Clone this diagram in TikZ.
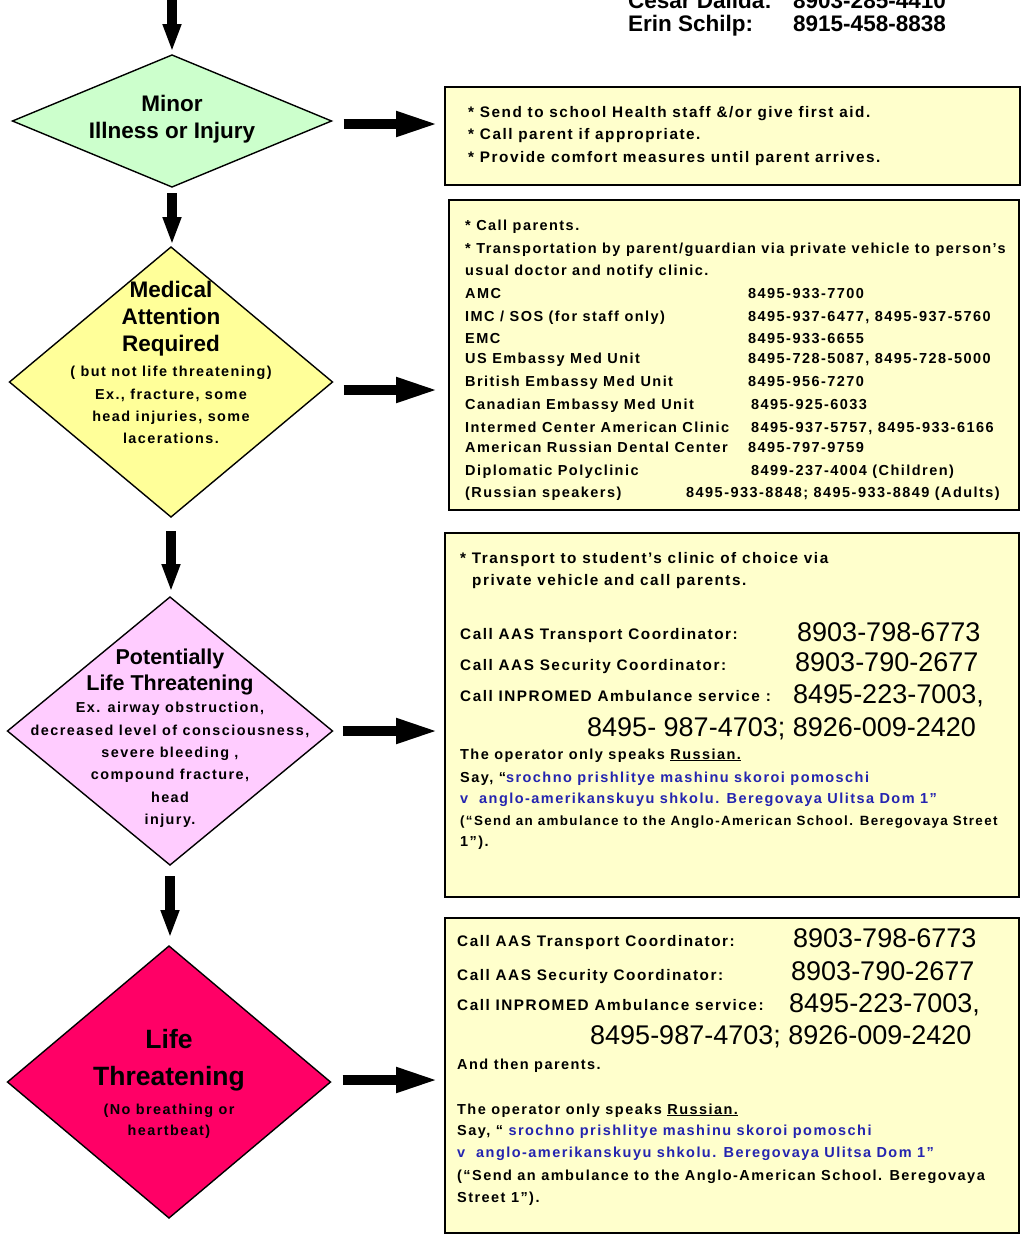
\documentclass[tikz,border=0pt]{standalone}
\usepackage{fontspec}
\setmainfont{Liberation Sans}
\newfontfamily\boxfont[LetterSpace=10]{Liberation Sans}
\usetikzlibrary{shapes, calc, arrows.meta, positioning}
\definecolor{G}{HTML}{CCFFCC}
\definecolor{Y}{HTML}{FFFF99}
\definecolor{P}{HTML}{FFCCFF}
\definecolor{R}{HTML}{FF0066}
\definecolor{C}{HTML}{FFFFCC}
\definecolor{B}{HTML}{2424B0}

\tikzset{
  grade/.style = {diamond, draw = black, line width = 1.4pt, inner sep = 0pt, outer sep = 0pt},
  todo/.style = {draw = black, line width = 2.5pt, fill = C, inner sep = 0pt, outer sep = 0pt, anchor = north west},
  heading/.style = {align = center, inner sep = 0pt, font = \bfseries\fontsize{22.5}{27}\selectfont},
  subnote/.style = {align = center, inner sep = 0pt, font = \boxfont\bfseries\fontsize{14.4}{22.3}\selectfont},
  txtline/.style = {anchor = base west, inner sep = 0pt, font = \boxfont\bfseries\fontsize{14.5}{17}\selectfont},
  bigline/.style = {txtline, font = \boxfont\bfseries\fontsize{15.3}{18}\selectfont},
  tightline/.style = {txtline, font = \boxfont\bfseries\fontsize{13.4}{16}\selectfont},
  phone/.style = {anchor = base west, inner sep = 0pt, font = \fontsize{27}{31}\selectfont},
  contact/.style = {anchor = base west, inner sep = 0pt, font = \bfseries\fontsize{22.5}{26}\selectfont},
  say/.style = {txtline, text = B},
  sidearrow/.style = {line width = 10pt, -{Triangle[length = 43pt, width = 23pt]}},
  downarrow/.style = {line width = 10pt, -{Triangle[length = 28pt, width = 17pt]}}
}

\begin{document}
\begin{tikzpicture}[x = 1pt, y = -1pt]
      \path[use as bounding box, fill = white] (0,0) rectangle (1022,1235);

      \node[contact] (cesar) at (628,8) {Cesar Dalida:};
      \node[contact] (cesarnum) at (793,8) {8903-285-4410};
      \node[contact] (erin) at (628,31) {Erin Schilp:};
      \node[contact] (erinnum) at (793,31) {8915-458-8838};

      \node[grade, fill = G, minimum width = 319pt, minimum height = 132pt] (minor) at (172,121) {};
      \node[grade, fill = Y, minimum width = 323pt, minimum height = 270pt] (medical) at (171,382) {};
      \node[grade, fill = P, minimum width = 325pt, minimum height = 268pt] (potential) at (170,731) {};
      \node[grade, fill = R, minimum width = 323pt, minimum height = 272pt] (life) at (169,1082) {};

      \node[heading] (minortitle) at (172,119) {Minor\\Illness or Injury};

      \node[heading] (medicaltitle) at (171,319) {Medical\\Attention\\Required};
      \node[subnote] (medicalnote) at (171,405) {( but not life threatening)\\Ex., fracture, some\\head injuries, some\\lacerations.};

      \node[heading, font = \bfseries\fontsize{21.5}{26}\selectfont] (potentialtitle) at (170,672) {Potentially\\Life Threatening};
      \node[subnote] (potentialnote) at (170,765) {Ex. airway obstruction,\\decreased level of consciousness,\\severe bleeding ,\\compound fracture,\\head\\injury.};

      \node[heading, font = \bfseries\fontsize{26.5}{37}\selectfont] (lifetitle) at (169,1060) {Life\\Threatening};
      \node[subnote, font = \boxfont\bfseries\fontsize{14.4}{21}\selectfont] (lifenote) at (169,1121) {(No breathing or\\heartbeat)};

      \node[todo, minimum width = 575pt, minimum height = 98pt] (minorbox) at (445,87) {};
      \node[todo, minimum width = 570pt, minimum height = 310pt] (medicalbox) at (449,200) {};
      \node[todo, minimum width = 574pt, minimum height = 364pt] (potentialbox) at (445,533) {};
      \node[todo, minimum width = 574pt, minimum height = 315pt] (lifebox) at (445,918) {};

      \coordinate (start) at (172,-4);
      \draw[downarrow] (start) -- ($(minor.north)+(0,-3)$);
      \draw[downarrow] ($(minor.south)+(0,6)$) -- ($(minor.south |- medical.north)+(0,-2)$);
      \draw[downarrow] ($(medical.south)+(0,14)$) -- ($(medical.south |- potential.north)+(0,-5)$);
      \draw[downarrow] ($(potential.south)+(0,11)$) -- ($(potential.south |- life.north)+(0,-8)$);

      \draw[sidearrow] ($(minor.east)+(12,3)$) -- ($(minor.east -| minorbox.west)+(-6,3)$);
      \draw[sidearrow] ($(medical.east)+(11,8)$) -- ($(medical.east -| medicalbox.west)+(-10,8)$);
      \draw[sidearrow] ($(potential.east)+(10,0)$) -- ($(potential.east -| potentialbox.west)+(-6,0)$);
      \draw[sidearrow] ($(life.east)+(12,-2)$) -- ($(life.east -| lifebox.west)+(-6,-2)$);

      \node[bigline] (mi1) at (468,117) {* Send to school Health staff \&/or give first aid.};
      \node[bigline] (mi2) at (468,139) {* Call parent if appropriate.};
      \node[bigline] (mi3) at (468,162) {* Provide comfort measures until parent arrives.};

      \node[txtline] (me1) at (465,230) {* Call parents.};
      \node[txtline] (me2) at (465,253) {* Transportation by parent/guardian via private vehicle to person’s};
      \node[txtline] (me3) at (465,275) {usual doctor and notify clinic.};
      \node[txtline] (me4) at (465,298) {\makebox[283pt][l]{AMC}8495-933-7700};
      \node[txtline] (me5) at (465,321) {\makebox[283pt][l]{IMC / SOS (for staff only)}8495-937-6477, 8495-937-5760};
      \node[txtline] (me6) at (465,343) {\makebox[283pt][l]{EMC}8495-933-6655};
      \node[txtline] (me7) at (465,363) {\makebox[283pt][l]{US Embassy Med Unit}8495-728-5087, 8495-728-5000};
      \node[txtline] (me8) at (465,386) {\makebox[283pt][l]{British Embassy Med Unit}8495-956-7270};
      \node[txtline] (me9) at (465,409) {\makebox[286pt][l]{Canadian Embassy Med Unit}8495-925-6033};
      \node[txtline] (me10) at (465,432) {\makebox[286pt][l]{Intermed Center American Clinic}8495-937-5757, 8495-933-6166};
      \node[txtline] (me11) at (465,452) {\makebox[283pt][l]{American Russian Dental Center}8495-797-9759};
      \node[txtline] (me12) at (465,475) {\makebox[286pt][l]{Diplomatic Polyclinic}8499-237-4004 (Children)};
      \node[txtline] (me13) at (465,497) {\makebox[221pt][l]{(Russian speakers)}8495-933-8848; 8495-933-8849 (Adults)};

      \node[bigline] (po1) at (460,563) {* Transport to student’s clinic of choice via};
      \node[bigline] (po2) at (472,585) {private vehicle and call parents.};
      \node[bigline] (po3) at (460,639) {Call AAS Transport Coordinator:};
      \node[phone] (po3num) at (797,641) {8903-798-6773};
      \node[bigline] (po4) at (460,670) {Call AAS Security Coordinator:};
      \node[phone] (po4num) at (795,671) {8903-790-2677};
      \node[bigline] (po5) at (460,701) {Call INPROMED Ambulance service :};
      \node[phone] (po5num) at (793,703) {8495-223-7003,};
      \node[phone] (po6num) at (587,736) {8495- 987-4703; 8926-009-2420};
      \node[txtline] (po7) at (460,759) {The operator only speaks \underline{Russian.}};
      \node[txtline] (po8) at (460,782) {Say, “\textcolor{B}{srochno prishlitye mashinu skoroi pomoschi}};
      \node[say] (po9) at (460,803) {v~~anglo-amerikanskuyu shkolu. Beregovaya Ulitsa Dom 1”};
      \node[tightline] (po10) at (460,825) {(“Send an ambulance to the Anglo-American School. Beregovaya Street};
      \node[txtline] (po11) at (460,846) {1”).};

      \node[bigline] (li1) at (457,946) {Call AAS Transport Coordinator:};
      \node[phone] (li1num) at (793,947) {8903-798-6773};
      \node[bigline] (li2) at (457,980) {Call AAS Security Coordinator:};
      \node[phone] (li2num) at (791,980) {8903-790-2677};
      \node[bigline] (li3) at (457,1010) {Call INPROMED Ambulance service:};
      \node[phone] (li3num) at (789,1012) {8495-223-7003,};
      \node[phone] (li4num) at (590,1044) {8495-987-4703; 8926-009-2420};
      \node[txtline] (li5) at (457,1069) {And then parents.};
      \node[txtline] (li6) at (457,1114) {The operator only speaks \underline{Russian.}};
      \node[txtline] (li7) at (457,1135) {Say, “ \textcolor{B}{srochno prishlitye mashinu skoroi pomoschi}};
      \node[say] (li8) at (457,1157) {v~~anglo-amerikanskuyu shkolu. Beregovaya Ulitsa Dom 1”};
      \node[txtline] (li9) at (457,1180) {(“Send an ambulance to the Anglo-American School. Beregovaya};
      \node[txtline] (li10) at (457,1202) {Street 1”).};
    \end{tikzpicture}
\end{document}
